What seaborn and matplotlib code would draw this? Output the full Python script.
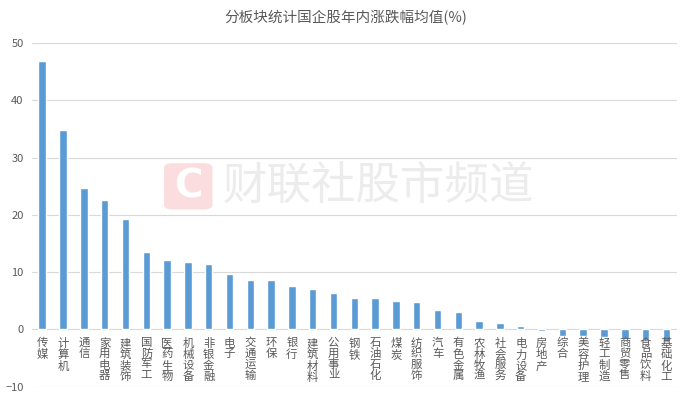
import pandas as pd
import seaborn as sns
import matplotlib.pyplot as plt
from matplotlib.patches import FancyBboxPatch

sectors = ['传媒', '计算机', '通信', '家用电器', '建筑装饰', '国防军工', '医药生物', '机械设备',
           '非银金融', '电子', '交通运输', '环保', '银行', '建筑材料', '公用事业', '钢铁',
           '石油石化', '煤炭', '纺织服饰', '汽车', '有色金属', '农林牧渔', '社会服务', '电力设备',
           '房地产', '综合', '美容护理', '轻工制造', '商贸零售', '食品饮料', '基础化工']
avg_change = [46.8, 34.9, 24.7, 22.6, 19.3, 13.5, 12.1, 11.8, 11.5, 9.6,
              8.7, 8.7, 7.5, 7.1, 6.4, 5.5, 5.5, 5.0, 4.7, 3.3,
              3.0, 1.45, 1.2, 0.6, -0.25, -1.1, -1.1, -1.4, -1.6, -1.8, -2.0]
y_ticks = [-10, 0, 10, 20, 30, 40, 50]

df = pd.DataFrame({'sector': sectors, 'value': avg_change})

sns.set_theme(style="white")
plt.rcParams['font.family'] = ['Noto Sans CJK SC', 'DejaVu Sans']

fig = plt.figure(figsize=(6.92, 3.99), dpi=100)
ax = fig.add_axes([0.046, 0.031, 0.932, 0.861])

# watermark
wm = FancyBboxPatch((0.240, 0.478), 0.064, 0.110, boxstyle="round,pad=0.003,rounding_size=0.012",
                    transform=fig.transFigure, facecolor='#fbdde0', edgecolor='none', zorder=0)
fig.patches.append(wm)
fig.text(0.272, 0.533, 'C', color='white', fontsize=28, fontweight='bold',
         ha='center', va='center', family='DejaVu Sans')
fig.text(0.322, 0.533, '财联社股市频道', color='#ececec', fontsize=32, ha='left', va='center')

for t in y_ticks:
    ax.axhline(t, color='#d9d9d9', lw=0.8, zorder=1)

sns.barplot(data=df, x='sector', y='value', color='#5b9bd5', width=0.36,
            saturation=1, ax=ax, zorder=3)

ax.set_xlim(-0.5, len(sectors) - 0.5)
ax.set_ylim(-10, 50)
ax.set_yticks(y_ticks)
ax.set_yticklabels([str(t) if t >= 0 else '−10' for t in y_ticks], color='#595959', fontsize=8)
ax.tick_params(axis='y', length=0, pad=6)
ax.set_xticks([])
ax.set_xlabel('')
ax.set_ylabel('')
for s in ax.spines.values():
    s.set_visible(False)
ax.patch.set_alpha(0)

for i, name in enumerate(sectors):
    ax.text(i, -1.5, '\n'.join(name), ha='center', va='top', fontsize=8.2,
            color='#595959', linespacing=1.05, zorder=4)

fig.suptitle('分板块统计国企股年内涨跌幅均值(%)', x=0.5, y=0.975, fontsize=10.5, color='#595959')

plt.savefig('out.png', dpi=100)
plt.close()
